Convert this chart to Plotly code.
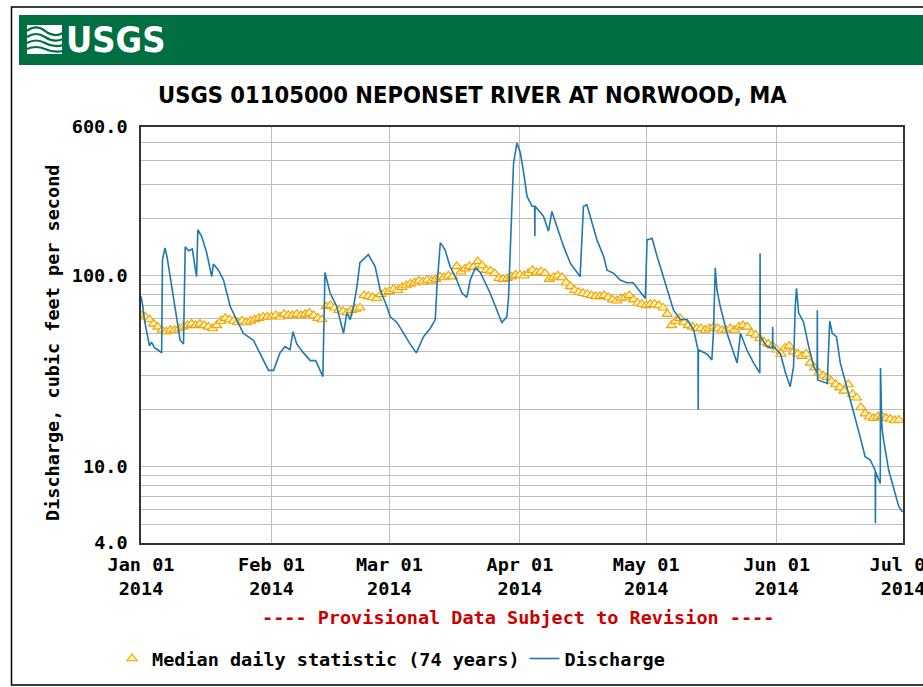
import pandas as pd
import plotly.graph_objects as go

START = "2014-01-01"

# Median daily statistic (74 years), cfs, one value per day Jan 1 .. Jun 30
median_jan = [62, 61, 59, 56, 54, 52, 51, 52, 52, 53, 54, 55, 56, 55, 56, 55, 54, 53, 55, 58,
              60, 59, 58, 57, 58, 57, 58, 59, 60, 61, 61]
median_feb = [61, 62, 61, 63, 62, 62, 63, 62, 63, 64, 62, 60, 59, 69, 70, 68, 66, 65, 64, 66,
              67, 68, 79, 78, 77, 76, 80, 82]
median_mar = [83, 85, 84, 87, 89, 91, 92, 94, 93, 95, 94, 96, 99, 98, 100, 99, 112, 105, 109, 112,
              111, 119, 113, 107, 106, 103, 97, 96, 97, 99, 101]
median_apr = [101, 100, 103, 107, 104, 105, 103, 96, 98, 100, 98, 92, 88, 84, 82, 81, 80, 79, 78, 78,
              79, 77, 75, 74, 76, 77, 79, 75, 72, 71]
median_may = [70, 71, 71, 70, 68, 63, 55, 58, 60, 57, 55, 54, 53, 53, 52, 53, 54, 53, 52, 52,
              53, 52, 54, 55, 54, 50, 49, 47, 45, 44, 43]
median_jun = [41, 39, 42, 43, 40, 39, 38, 39, 35, 33, 31, 30, 29.5, 28, 27, 26, 25, 27, 24, 23,
              20.5, 19, 18.3, 18, 18.3, 18.5, 18, 17.8, 17.5, 17.6]

# Discharge (cfs), read at irregular times: days after Jan 1 2014
q_day = [0.0, 0.4, 0.8, 1.5, 2.0, 2.5, 3.2, 4.0, 4.9, 5.1, 5.7, 6.2, 7.3, 8.5, 9.3, 10.1, 10.5, 11.3,
         12.2, 12.8, 13.2, 13.5, 14.4, 15.6, 16.8, 17.2, 18.3, 19.6, 21.2, 22.7, 24.3, 26.7, 29.1,
         30.3, 31.5, 33.0, 34.2, 35.4, 36.1, 37.0, 38.6, 40.2, 41.5, 42.1, 43.2, 43.7, 44.9, 46.5,
         48.1, 48.9, 49.7, 50.5, 51.3, 52.0, 54.0, 55.6, 56.8, 58.4, 59.2, 60.8, 62.3, 63.9, 65.4,
         67.1, 68.7, 69.9, 70.3, 71.1, 72.2, 73.4, 75.0, 76.2, 77.4, 78.2, 79.4, 80.6, 82.9, 84.5,
         85.7, 86.9, 87.3, 88.1, 88.5, 89.3, 90.1, 90.9, 91.7, 92.9, 93.5, 93.55, 93.6, 95.6, 96.8,
         97.6, 98.8, 100.4, 102.0, 104.3, 105.1, 105.9, 106.7, 108.3, 109.9, 110.7, 112.3, 113.8,
         115.4, 116.9, 118.2, 119.8, 120.2, 121.4, 122.6, 124.1, 125.3, 126.5, 128.1, 129.7, 131.3,
         132.3, 132.35, 132.4, 134.4, 135.6, 136.0, 136.4, 136.8, 137.6, 139.2, 140.8, 141.6, 142.4,
         143.9, 145.5, 147.0, 147.05, 147.1, 148.7, 150.0, 150.05, 150.1, 151.9, 153.1, 154.2, 155.0,
         155.4, 155.7, 156.2, 157.4, 158.6, 159.8, 160.6, 160.65, 160.7, 163.0, 163.6, 164.2, 165.2,
         166.1, 167.7, 168.9, 170.8, 172.0, 173.2, 174.4, 174.45, 174.5, 175.6, 175.65, 176.0, 176.4,
         177.6, 178.8, 180.0, 180.9]
q_cfs = [78, 70, 59, 50, 43, 45, 42, 41, 39.5, 121, 140, 125, 88, 59, 46, 44, 142, 135,
         138, 112, 99, 174, 161, 132, 99, 115, 108, 95, 69, 59, 50, 46, 36,
         32, 32, 39.5, 42.6, 41, 51, 44, 39.5, 36, 36, 33.5, 29.7, 104, 81.5, 69,
         50, 64, 59, 69, 88, 117, 129, 112, 84.5, 69, 61, 57, 50, 44, 39.5,
         48, 53, 59, 88, 149, 137, 112, 95, 81.5, 77, 95, 110, 104, 81.5, 66,
         57, 61, 77, 231, 390, 495, 440, 345, 260, 231, 231, 161, 231, 205, 171,
         217, 181, 142, 116, 99, 231, 235, 205, 154, 126, 107, 103, 95,
         92, 92, 84.5, 76, 154, 157, 126, 99, 81, 66, 59, 59, 52,
         41, 19.9, 41, 39, 36.3, 52, 110, 84.5, 69, 50, 39, 35, 50,
         41, 35, 31, 131, 48, 42.6, 42, 54, 43, 39, 31, 26.3, 33.5,
         69, 86, 64, 57, 42.6, 33.5, 31, 66, 28.5, 27.4, 58, 50, 48,
         35, 26.3, 20.7, 14.4, 11.3, 10.9, 9.6, 5.07, 9.4, 8.2, 32.9, 16, 13.8,
         9.6, 7.6, 6.2, 5.8]

# Axis ticks
x_tick_dates = ["2014-01-01", "2014-02-01", "2014-03-01", "2014-04-01", "2014-05-01", "2014-06-01", "2014-07-01"]
x_tick_labels = ["Jan 01<br>2014", "Feb 01<br>2014", "Mar 01<br>2014", "Apr 01<br>2014",
                 "May 01<br>2014", "Jun 01<br>2014", "Jul 01<br>2014"]
y_grid_vals = [4, 5, 6, 7, 8, 9, 10, 20, 30, 40, 50, 60, 70, 80, 90, 100, 200, 300, 400, 500, 600]
y_tick_labels = ["4.0", "", "", "", "", "", "10.0", "", "", "", "", "", "", "", "", "100.0",
                 "", "", "", "", "600.0"]

median_cfs = median_jan + median_feb + median_mar + median_apr + median_may + median_jun
median_dates = pd.date_range(START, periods=len(median_cfs), freq="D")
q_dates = pd.Timestamp(START) + pd.to_timedelta(q_day, unit="D")

W, H = 923, 687
L, R, T, B = 141, 20, 127, 144
PW, PH = W - L - R, H - T - B


def px(x):
    return (x - L) / PW


def py(y):
    return (H - B - y) / PH


MONO = "DejaVu Sans Mono, Liberation Mono, monospace"
mono_font = dict(family=MONO, size=18.5, color="black", weight="bold")
NARROW = "Liberation Sans Narrow, DejaVu Sans Condensed, Liberation Sans"

fig = go.Figure()
fig.add_trace(go.Scatter(
    x=median_dates, y=median_cfs, mode="markers",
    name="Median daily statistic (74 years)",
    marker=dict(symbol="triangle-up", size=9, color="#FFF3B8",
                line=dict(color="#F2A100", width=1.1)),
))
fig.add_trace(go.Scatter(
    x=q_dates, y=q_cfs, mode="lines", name="Discharge",
    line=dict(color="#1f78b0", width=1.6),
))

shapes = [
    # outer frame
    dict(type="rect", xref="paper", yref="paper", x0=px(11.5), x1=px(940), y0=py(685), y1=py(7),
         line=dict(color="black", width=1.5), fillcolor="rgba(0,0,0,0)", layer="below"),
    # green banner
    dict(type="rect", xref="paper", yref="paper", x0=px(19), x1=px(940), y0=py(65), y1=py(15),
         line=dict(width=0), fillcolor="#006F41", layer="below"),
    # logo icon block
    dict(type="rect", xref="paper", yref="paper", x0=px(27), x1=px(62), y0=py(54), y1=py(25),
         line=dict(width=0), fillcolor="white", layer="above"),
]
for k, yy in enumerate([31, 37, 43, 49]):
    path = "M {:.4f},{:.4f} Q {:.4f},{:.4f} {:.4f},{:.4f} T {:.4f},{:.4f}".format(
        px(27), py(yy), px(36), py(yy - 7 + k), px(45), py(yy), px(63), py(yy + 2))
    shapes.append(dict(type="path", xref="paper", yref="paper", path=path,
                       line=dict(color="#006F41", width=2.2), layer="above"))

annotations = [
    dict(text="USGS", x=px(64), y=py(40), xref="paper", yref="paper", xanchor="left",
         yanchor="middle", showarrow=False,
         font=dict(family=NARROW, size=36, color="white", weight="bold")),
    dict(text="USGS 01105000 NEPONSET RIVER AT NORWOOD, MA", x=px(472), y=py(95),
         xref="paper", yref="paper", xanchor="center", yanchor="middle", showarrow=False,
         font=dict(family=NARROW, size=23.5, color="black", weight="bold")),
    dict(text="Discharge, cubic feet per second", x=px(52), y=py(343), xref="paper", yref="paper",
         xanchor="center", yanchor="middle", textangle=-90, showarrow=False, font=mono_font),
    dict(text="---- Provisional Data Subject to Revision ----", x=px(518), y=py(617),
         xref="paper", yref="paper", xanchor="center", yanchor="middle", showarrow=False,
         font=dict(family=MONO, size=18.5, color="#CC0000", weight="bold")),
]

fig.update_layout(
    width=W, height=H, autosize=False,
    margin=dict(l=L, r=R, t=T, b=B, pad=0, autoexpand=False),
    paper_bgcolor="white", plot_bgcolor="white",
    shapes=shapes, annotations=annotations,
    showlegend=True,
    legend=dict(orientation="h", x=px(112), y=py(659), xanchor="left", yanchor="middle",
                font=mono_font, bgcolor="rgba(0,0,0,0)", itemwidth=30),
    xaxis=dict(
        type="date", range=["2014-01-01", "2014-07-01"],
        tickvals=x_tick_dates, ticktext=x_tick_labels, tickangle=0,
        showgrid=True, gridcolor="#BDBDBD", gridwidth=1,
        showline=True, linecolor="#333333", linewidth=1.5, mirror=True,
        ticks="", tickfont=mono_font, zeroline=False, ticklabelstandoff=4,
        ticklabeloverflow="allow", automargin=False,
    ),
    yaxis=dict(
        type="log", range=[0.60206, 2.778151],
        tickvals=y_grid_vals, ticktext=y_tick_labels,
        showgrid=True, gridcolor="#BDBDBD", gridwidth=1,
        showline=True, linecolor="#333333", linewidth=1.5, mirror=True,
        ticks="", tickfont=mono_font, zeroline=False, ticklabelstandoff=8,
        automargin=False,
    ),
)

fig.write_html(
    "out.html",
    config={"displayModeBar": False},
    post_script="document.body.style.margin='0';document.body.style.overflow='hidden';",
)
